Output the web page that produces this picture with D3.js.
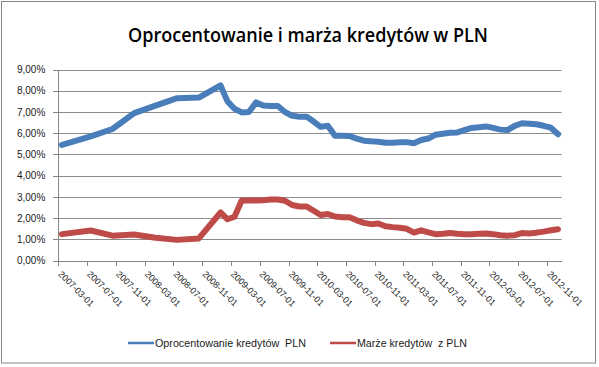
<!DOCTYPE html>
<html>
<head>
<meta charset="utf-8">
<script src="https://cdn.jsdelivr.net/npm/d3@7"></script>
<style>
  html, body { margin: 0; padding: 0; background: #fff; overflow: hidden; }
  svg { display: block; font-family: 'Liberation Sans', Arial, sans-serif; }
  .grid line { stroke: #8c8c8c; stroke-width: 1; }
  .axis path, .axis line { stroke: #868686; stroke-width: 1; shape-rendering: crispEdges; }
  .axis text { fill: #1a1a1a; }
  .series { fill: none; stroke-width: 6; stroke-linejoin: round; stroke-linecap: round; }
</style>
</head>
<body>
<script>
'use strict';

// dates of the readings (monthly from 2009, sparser before)
const months = [
  '2007-03', '2007-07', '2007-10', '2008-01', '2008-04', '2008-07', '2008-10',
  '2009-01', '2009-02', '2009-03', '2009-04', '2009-05', '2009-06', '2009-07', '2009-08', '2009-09', '2009-10', '2009-11', '2009-12',
  '2010-01', '2010-02', '2010-03', '2010-04', '2010-05', '2010-06', '2010-07', '2010-08', '2010-09', '2010-10', '2010-11', '2010-12',
  '2011-01', '2011-02', '2011-03', '2011-04', '2011-05', '2011-06', '2011-07', '2011-08', '2011-09', '2011-10', '2011-11', '2011-12',
  '2012-01', '2012-02', '2012-03', '2012-04', '2012-05', '2012-06', '2012-07', '2012-08', '2012-09', '2012-10', '2012-11', '2012-12'
];

// Oprocentowanie kredytów PLN, %
const rates = [
  5.45, 5.85, 6.2, 6.95, 7.3, 7.65, 7.68,
  8.25, 7.5, 7.15, 6.98, 7.0, 7.45, 7.3, 7.28, 7.28, 7.0, 6.82, 6.78,
  6.78, 6.55, 6.3, 6.35, 5.88, 5.88, 5.87, 5.75, 5.65, 5.62, 5.6, 5.55,
  5.55, 5.58, 5.58, 5.53, 5.68, 5.75, 5.93, 5.98, 6.02, 6.04, 6.15, 6.25,
  6.28, 6.32, 6.25, 6.17, 6.15, 6.35, 6.47, 6.45, 6.42, 6.35, 6.26, 5.95
];

// Marże kredytów z PLN, %
const margins = [
  1.25, 1.42, 1.18, 1.23, 1.08, 0.98, 1.05,
  2.27, 1.95, 2.07, 2.83, 2.83, 2.83, 2.85, 2.88, 2.88, 2.82, 2.62, 2.55,
  2.55, 2.35, 2.15, 2.2, 2.08, 2.05, 2.05, 1.9, 1.78, 1.72, 1.75, 1.62,
  1.58, 1.55, 1.5, 1.32, 1.43, 1.33, 1.25, 1.27, 1.3, 1.27, 1.25, 1.25,
  1.27, 1.28, 1.25, 1.2, 1.18, 1.2, 1.3, 1.28, 1.32, 1.37, 1.43, 1.48
];

const seriesNames = ['Oprocentowanie kredytów  PLN', 'Marże kredytów  z PLN'];
const seriesColors = ['#4a7ebb', '#be4b48'];
const yTicks = [0, 0.01, 0.02, 0.03, 0.04, 0.05, 0.06, 0.07, 0.08, 0.09];

const W = 599, H = 367;
const plot = { left: 58.3, right: 561.7, top: 69.5, bottom: 260.7 };

const svg = d3.select('body').append('svg').attr('width', W).attr('height', H);

svg.append('rect')
    .attr('x', 1.5).attr('y', 1.5)
    .attr('width', 594).attr('height', 361.5)
    .attr('fill', '#fff')
    .attr('stroke', '#868686');

svg.append('text')
    .attr('x', 308).attr('y', 42)
    .attr('text-anchor', 'middle')
    .attr('font-family', "'Open Sans', sans-serif")
    .attr('font-weight', 600)
    .attr('font-size', 19)
    .attr('textLength', 360).attr('lengthAdjust', 'spacingAndGlyphs')
    .attr('fill', '#000')
    .text('Oprocentowanie i marża kredytów w PLN');

const parse = d3.timeParse('%Y-%m');
const x = d3.scaleTime()
    .domain([new Date(2007, 2, 1), new Date(2013, 0, 1)])
    .range([plot.left, plot.right]);
const y = d3.scaleLinear().domain([0, 0.09]).range([plot.bottom, plot.top]);

// points sit in the middle of their month slot
function xMid(d) {
  return (x(d) + x(d3.timeMonth.offset(d, 1))) / 2;
}

const pl = d3.formatLocale({ decimal: ',', thousands: ' ', grouping: [3], currency: ['', ' zł'] });
const pct = pl.format('.2%');

// gridlines
svg.append('g').classed('grid', true)
  .selectAll('line').data(yTicks.slice(1)).enter().append('line')
    .attr('x1', plot.left).attr('x2', plot.right)
    .attr('y1', d => Math.round(y(d)) + 0.5).attr('y2', d => Math.round(y(d)) + 0.5);

const yAxis = svg.append('g').classed('axis', true)
    .attr('transform', `translate(${plot.left},0)`)
    .call(d3.axisLeft(y).tickValues(yTicks).tickFormat(pct).tickSize(5).tickPadding(8));
yAxis.selectAll('text').attr('font-size', 10);

const xTicks = d3.timeMonth.range(new Date(2007, 2, 1), new Date(2012, 11, 1), 4);
const xAxis = svg.append('g').classed('axis', true)
    .attr('transform', `translate(0,${plot.bottom})`)
    .call(d3.axisBottom(x).tickValues(xTicks).tickSizeInner(5).tickSizeOuter(0)
      .tickFormat(d3.timeFormat('%Y-%m-%d')));
xAxis.selectAll('text')
    .attr('font-size', 9)
    .attr('text-anchor', 'start')
    .attr('dy', 0)
    .attr('y', 0)
    .attr('transform', 'translate(-1,14) rotate(45)');

const dates = months.map(parse);
const line = d3.line().x((d, i) => xMid(dates[i])).y(d => y(d / 100));

[rates, margins].forEach((vals, k) => {
  svg.append('path').classed('series', true)
      .attr('stroke', seriesColors[k])
      .attr('d', line(vals));
});

// legend
const legendX = [128, 330];
const legendW = [151, 110];
const lg = svg.append('g').selectAll('g').data(seriesNames).enter().append('g')
    .attr('transform', (d, i) => `translate(${legendX[i]},343)`);
lg.append('line')
    .attr('x1', 0).attr('x2', 26)
    .attr('stroke', (d, i) => seriesColors[i])
    .attr('stroke-width', 2.5);
lg.append('text')
    .attr('x', 27).attr('dy', '0.35em')
    .attr('font-size', 11)
    .attr('fill', '#1a1a1a')
    .attr('textLength', (d, i) => legendW[i])
    .attr('lengthAdjust', 'spacingAndGlyphs')
    .style('white-space', 'pre')
    .text(d => d);
</script>
</body>
</html>
